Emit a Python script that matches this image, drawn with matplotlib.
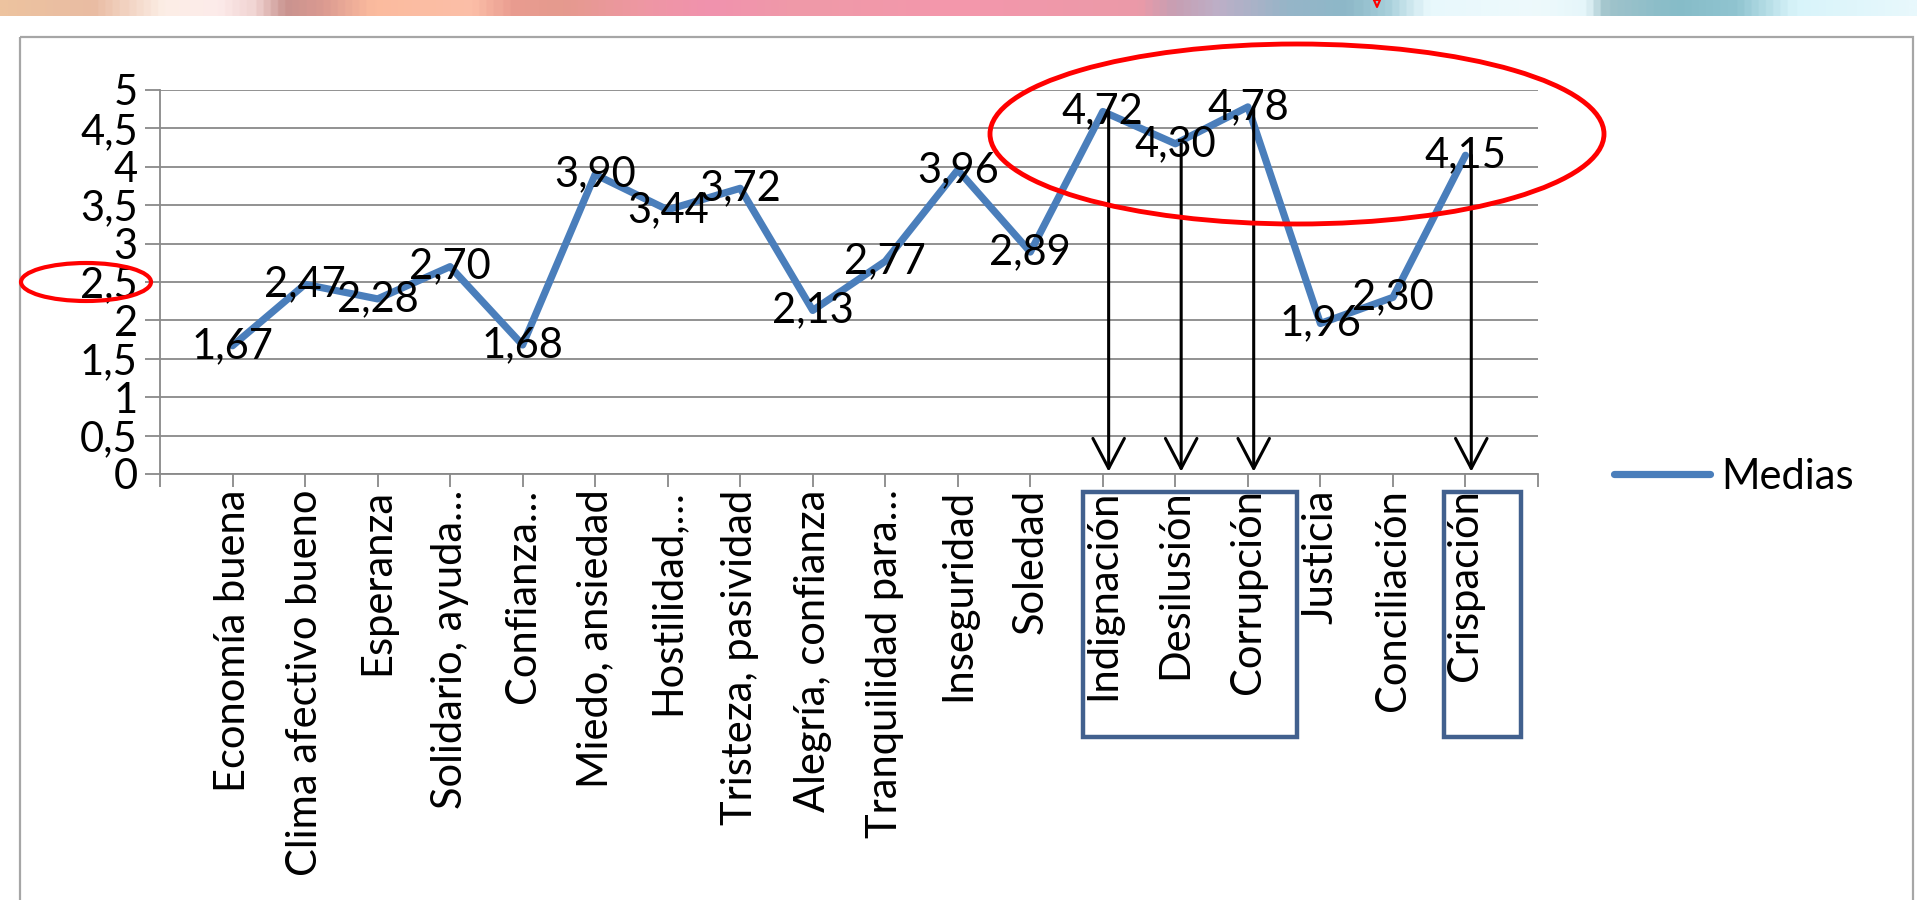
import numpy as np
import matplotlib
matplotlib.use("Agg")
import matplotlib.pyplot as plt
from matplotlib.patches import Ellipse, Rectangle
from matplotlib.colors import LinearSegmentedColormap
import matplotlib.transforms as mtransforms

# data
categorias = ["Economía buena", "Clima afectivo bueno", "Esperanza",
              "Solidario, ayuda…", "Confianza…", "Miedo, ansiedad",
              "Hostilidad,…", "Tristeza, pasividad", "Alegría, confianza",
              "Tranquilidad para…", "Inseguridad", "Soledad", "Indignación",
              "Desilusión", "Corrupción", "Justicia", "Conciliación",
              "Crispación"]
medias = [1.67, 2.47, 2.28, 2.70, 1.68, 3.90, 3.44, 3.72, 2.13, 2.77,
          3.96, 2.89, 4.72, 4.30, 4.78, 1.96, 2.30, 4.15]
yticks = [0, 0.5, 1, 1.5, 2, 2.5, 3, 3.5, 4, 4.5, 5]
ytick_labels = ["0", "0,5", "1", "1,5", "2", "2,5", "3", "3,5", "4", "4,5", "5"]
destacados = ["Indignación", "Desilusión", "Corrupción", "Crispación"]

plt.rcParams['font.family'] = ['Lato', 'DejaVu Sans']
FS = 30
GRID = '#898989'
LINE = '#4A7EBB'

W, H = 1917, 900
fig = plt.figure(figsize=(W / 100, H / 100), dpi=100)
fig.patch.set_facecolor('white')

# main plot area (pixel placement)
left, right, top, bottom = 160, 1538, 90, 474
ax = fig.add_axes([left / W, 1 - bottom / H, (right - left) / W, (bottom - top) / H])

x = np.arange(1, len(medias) + 1)
line, = ax.plot(x, medias, color=LINE, lw=5.2, solid_joinstyle='round',
                solid_capstyle='round', label='Medias', zorder=3)

for xi, v in zip(x, medias):
    ax.text(xi, v, f"{v:.2f}".replace('.', ','), ha='center', va='center',
            fontsize=FS, color='black', zorder=4)

ax.set_xlim(0, len(medias) + 1)
ax.set_ylim(0, 5)
ax.set_yticks(yticks)
ax.set_yticklabels(ytick_labels, fontsize=FS)
ax.set_xticks(np.arange(0, len(medias) + 2))
ax.set_xticklabels([''] + categorias + [''], rotation=90, fontsize=FS,
                   va='top', ha='center')
ax.yaxis.grid(True, color=GRID, lw=1.3)
ax.set_axisbelow(True)
ax.tick_params(axis='y', length=11, width=1.3, color=GRID, pad=5)
ax.tick_params(axis='x', length=9, width=1.3, color=GRID, pad=2)
for s in ['top', 'right']:
    ax.spines[s].set_visible(False)
for s in ['left', 'bottom']:
    ax.spines[s].set_color(GRID)
    ax.spines[s].set_linewidth(1.3)

ax.legend(handles=[line], loc='center left', bbox_to_anchor=(1614 / W, 1 - 477 / H),
          bbox_transform=fig.transFigure, frameon=False, fontsize=FS,
          handlelength=2.3, handletextpad=0.28, borderpad=0, borderaxespad=0)

# arrows from highlighted points down to the axis
for cat in destacados:
    i = categorias.index(cat)
    ax.annotate('', xy=(x[i] + 0.08, 0.03), xytext=(x[i] + 0.08, medias[i]),
                arrowprops=dict(arrowstyle='->, head_length=0.8, head_width=0.42',
                                mutation_scale=27, lw=2.2, color='black',
                                shrinkA=0, shrinkB=0), zorder=5)

# boxes around highlighted tick labels
trans = mtransforms.blended_transform_factory(ax.transData, ax.transAxes)
BOX = '#41608E'
for x0, x1 in [(12.73, 15.68), (17.7, 18.77)]:
    ax.add_patch(Rectangle((x0, -0.685), x1 - x0, 0.638, transform=trans,
                           fill=False, edgecolor=BOX, lw=3.2, clip_on=False))

# overlay in pixel coordinates for decorations
ov = fig.add_axes([0, 0, 1, 1], zorder=10)
ov.set_xlim(0, W)
ov.set_ylim(H, 0)
ov.axis('off')
ov.patch.set_visible(False)

stops = [(0, '#EDC39F'), (90, '#E9BCA3'), (160, '#FCEEE6'), (215, '#FDEBEA'),
         (250, '#F1D5D3'), (283, '#C9938F'), (320, '#DB9A91'), (370, '#FBBB9E'),
         (470, '#FCBFA8'), (510, '#E99C90'), (560, '#E59A8E'), (640, '#EE97A3'),
         (710, '#F192AE'), (800, '#EF9AA8'), (960, '#F497AC'), (1140, '#EB9AA8'),
         (1175, '#C79FB3'), (1220, '#BDAFC7'), (1290, '#96B5C8'), (1350, '#8DB8C8'),
         (1390, '#A7CFDA'), (1430, '#E8F8FC'), (1540, '#EEFAFC'), (1590, '#E5F6FA'),
         (1610, '#A0C3CB'), (1680, '#86BCC8'), (1740, '#90C4D0'), (1800, '#D8F4FA'),
         (1917, '#E8F8FC')]
cmap = LinearSegmentedColormap.from_list('banner', [(p / W, c) for p, c in stops])
ov.imshow(np.linspace(0, 1, 800).reshape(1, -1), cmap=cmap, aspect='auto',
          extent=[0, W, 16, 0], zorder=1)
ov.plot([1374, 1380, 1377, 1374], [0, 0, 7, 0], color='red', lw=1.5, zorder=2)

ov.add_patch(Rectangle((20, 37), 1893, 900, fill=False, edgecolor='#A6A6A6', lw=1.6))
ov.add_patch(Ellipse((1297, 134), 614, 180, fill=False, edgecolor='#FF0000', lw=3.5))
ov.add_patch(Ellipse((86, 282), 130, 38, fill=False, edgecolor='#FF0000', lw=3.0))

ov.set_xlim(0, W)
ov.set_ylim(H, 0)

fig.savefig('out.png', dpi=100)
